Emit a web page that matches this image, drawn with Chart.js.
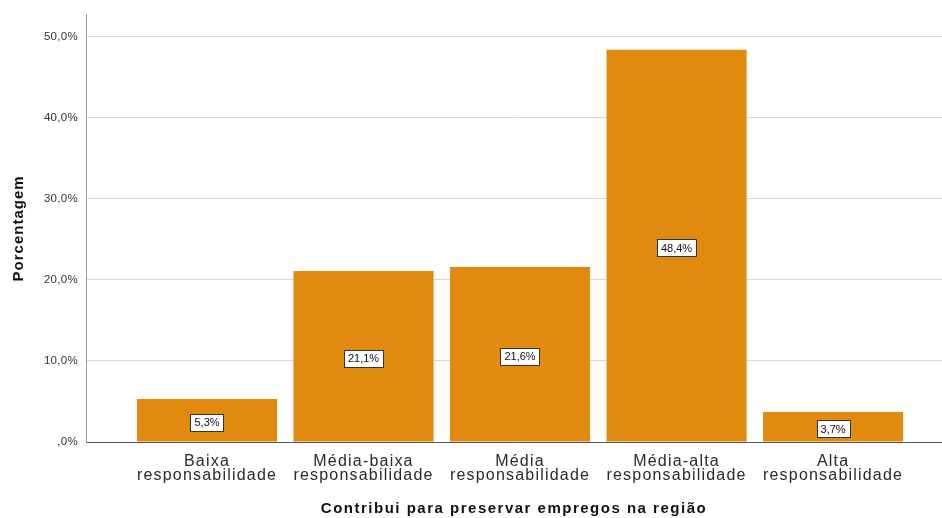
<!DOCTYPE html>
<html>
<head>
<meta charset="utf-8">
<script src="https://cdn.jsdelivr.net/npm/chart.js@4/dist/chart.umd.min.js"></script>
<style>
html,body{margin:0;padding:0;background:#fff;}
#wrap{width:942px;height:518px;}
</style>
</head>
<body>
<div id="wrap"><canvas id="c" width="942" height="518"></canvas></div>
<script>
const categories = [
  ["Baixa", "responsabilidade"],
  ["Média-baixa", "responsabilidade"],
  ["Média", "responsabilidade"],
  ["Média-alta", "responsabilidade"],
  ["Alta", "responsabilidade"]
];
const percentages = [5.3, 21.1, 21.6, 48.4, 3.7];
const yTicks = [0, 10, 20, 30, 40, 50];
const xTitle = "Contribui para preservar empregos na região";
const yTitle = "Porcentagem";

function fmtPct(v) {
  if (v === 0) return ",0%";
  return v.toFixed(1).replace(".", ",") + "%";
}

const spacingPlugin = {
  id: "spacing",
  beforeDraw(chart) {
    const specs = { x: { labels: "1.2px", title: "1.5px" }, y: { labels: "0.3px", title: "1px" } };
    for (const id of ["x", "y"]) {
      const s = chart.scales[id];
      if (!s || s._spPatched) continue;
      const origL = s.drawLabels, origT = s.drawTitle;
      s.drawLabels = function (a) {
        const c = this.ctx; const p = c.letterSpacing;
        c.letterSpacing = specs[id].labels; origL.call(this, a); c.letterSpacing = p || "0px";
      };
      s.drawTitle = function () {
        const c = this.ctx; const p = c.letterSpacing;
        c.letterSpacing = specs[id].title; origT.call(this); c.letterSpacing = p || "0px";
      };
      s._spPatched = true;
    }
  }
};

const labelPlugin = {
  id: "barLabels",
  afterDatasetsDraw(chart) {
    const ctx = chart.ctx;
    const meta = chart.getDatasetMeta(0);
    ctx.save();
    ctx.letterSpacing = "0px";
    ctx.font = "11px 'Liberation Sans', Arial, sans-serif";
    ctx.textAlign = "center";
    ctx.textBaseline = "middle";
    meta.data.forEach((bar, i) => {
      const txt = fmtPct(percentages[i]);
      const cx = bar.x;
      const cy = (bar.y + bar.base) / 2 + 2;
      const w = ctx.measureText(txt).width + 8;
      const h = 17;
      ctx.fillStyle = "#ffffff";
      ctx.fillRect(Math.round(cx - w / 2) + 0.5, Math.round(cy - h / 2) + 0.5, Math.round(w), h);
      ctx.strokeStyle = "#333333";
      ctx.lineWidth = 1;
      ctx.strokeRect(Math.round(cx - w / 2) + 0.5, Math.round(cy - h / 2) + 0.5, Math.round(w), h);
      ctx.fillStyle = "#111111";
      ctx.fillText(txt, cx, cy + 1);
    });
    ctx.restore();
  }
};

new Chart(document.getElementById("c"), {
  type: "bar",
  data: {
    datasets: [{
      data: percentages.map((v, i) => ({ x: i, y: v })),
      backgroundColor: "#E08A10",
      borderWidth: 0,
      barPercentage: 0.895,
      categoryPercentage: 1
    }]
  },
  options: {
    responsive: false,
    animation: false,
    devicePixelRatio: 1,
    layout: { padding: { top: 14, left: 0, right: 0, bottom: 0 } },
    plugins: { legend: { display: false }, tooltip: { enabled: false } },
    scales: {
      x: {
        type: "linear",
        offset: false,
        min: -0.773,
        max: 4.696,
        afterFit(s) { s.height = 76; },
        grid: { display: false, drawTicks: false, offset: false },
        border: { display: true, color: "#555555", width: 1 },
        afterBuildTicks(s) { s.ticks = categories.map((c, i) => ({ value: i })); },
        ticks: {
          autoSkip: false,
          maxRotation: 0,
          minRotation: 0,
          padding: 12,
          color: "#2a2a2a",
          font: { family: "'Liberation Sans', Arial, sans-serif", size: 16, lineHeight: 0.89 },
          callback: (v) => categories[v] || ""
        },
        title: {
          display: true,
          text: xTitle,
          color: "#111111",
          font: { family: "'Liberation Sans', Arial, sans-serif", size: 15, weight: "bold", lineHeight: 1.2 },
          padding: { top: 0, bottom: 0 }
        }
      },
      y: {
        min: 0,
        max: 52.7,
        afterFit(s) { s.width = 86; },
        afterBuildTicks(s) { s.ticks = yTicks.map(v => ({ value: v })); },
        grid: {
          drawTicks: false,
          color: (c) => (c.tick && c.tick.value === 0) ? "rgba(0,0,0,0)" : "#d6d6d6",
          lineWidth: 1
        },
        border: { display: true, color: "#9a9a9a", width: 1 },
        ticks: {
          padding: 8,
          color: "#333333",
          font: { family: "'Liberation Sans', Arial, sans-serif", size: 11.5 },
          callback: (v) => fmtPct(v)
        },
        title: {
          display: true,
          text: yTitle,
          color: "#111111",
          font: { family: "'Liberation Sans', Arial, sans-serif", size: 15, weight: "bold", lineHeight: 1.2 },
          padding: { top: 9.5, bottom: 0 }
        }
      }
    }
  },
  plugins: [spacingPlugin, labelPlugin]
});
</script>
</body>
</html>
